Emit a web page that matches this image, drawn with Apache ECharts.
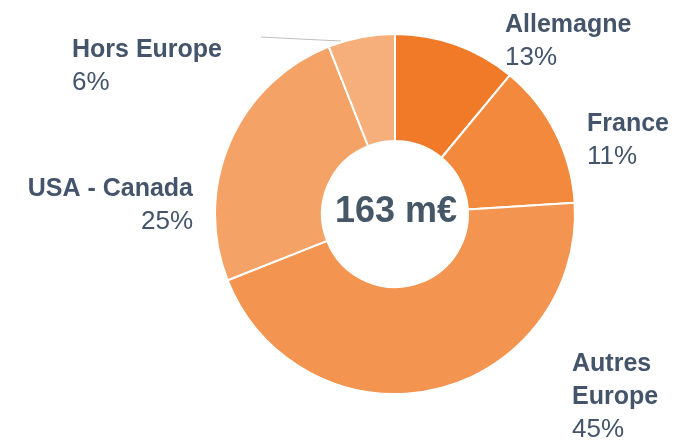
<!DOCTYPE html>
<html>
<head>
<meta charset="utf-8">
<script src="https://cdn.jsdelivr.net/npm/echarts@6/dist/echarts.min.js"></script>
<style>
  html, body { margin: 0; padding: 0; background: #fff; }
  #chart_donut { width: 682px; height: 442px; }
</style>
</head>
<body>
<div id="chart_donut"></div>
<script>
// slice order clockwise from 12 o'clock
const categories = ['Allemagne', 'France', 'Autres\nEurope', 'USA - Canada', 'Hors Europe']
const shares = [11, 13, 45, 25, 6]
// percentage texts as printed next to each slice
const pctLabels = ['13%', '11%', '45%', '25%', '6%']
const totalLabel = '163 m€'

const colors = ['#F07A27', '#F2893D', '#F39451', '#F4A266', '#F6AF7B']
// label boxes, same order as categories: [x, top, align]
const labelPos = [
  [505, 9, 'left'],
  [587, 108, 'left'],
  [572, 348, 'left'],
  [193, 173, 'right'],
  [72, 34, 'left']
]
const textColor = '#44546A'
const font = '"Liberation Sans", Arial, sans-serif'

const chart = echarts.init(document.getElementById('chart_donut'))

chart.setOption({
  animation: false,
  series: [
    {
      type: 'pie',
      center: [395, 214],
      radius: [73, 180],
      startAngle: 90,
      clockwise: true,
      avoidLabelOverlap: false,
      itemStyle: {
        borderColor: '#fff',
        borderWidth: 2
      },
      label: {
        show: true,
        position: 'outside',
        formatter: p => '{name|' + p.name.split('\n').join('}\n{name|') + '}\n{pct|' + pctLabels[p.dataIndex] + '}',
        rich: {
          name: {
            fontFamily: font,
            fontSize: 25,
            fontWeight: 'bold',
            color: textColor,
            lineHeight: 33
          },
          pct: {
            fontFamily: font,
            fontSize: 26,
            color: textColor,
            lineHeight: 32
          }
        }
      },
      labelLine: {
        show: false,
        lineStyle: {
          color: '#BFBFBF',
          width: 1
        }
      },
      labelLayout: params => {
        const pos = labelPos[params.dataIndex]
        const out = { x: pos[0], y: pos[1], align: pos[2], verticalAlign: 'top' }
        if (params.dataIndex === 4) {
          out.labelLinePoints = [[341, 41], [300, 39], [261, 37]]
        }
        return out
      },
      data: categories.map((name, i) => ({
        name: name,
        value: shares[i],
        itemStyle: { color: colors[i] },
        labelLine: { show: i === 4 }
      }))
    }
  ],
  graphic: [
    {
      type: 'text',
      left: 335,
      top: 194,
      style: {
        text: totalLabel,
        fontFamily: font,
        fontSize: 36,
        fontWeight: 'bold',
        fill: '#465867'
      }
    }
  ]
})
</script>
</body>
</html>
